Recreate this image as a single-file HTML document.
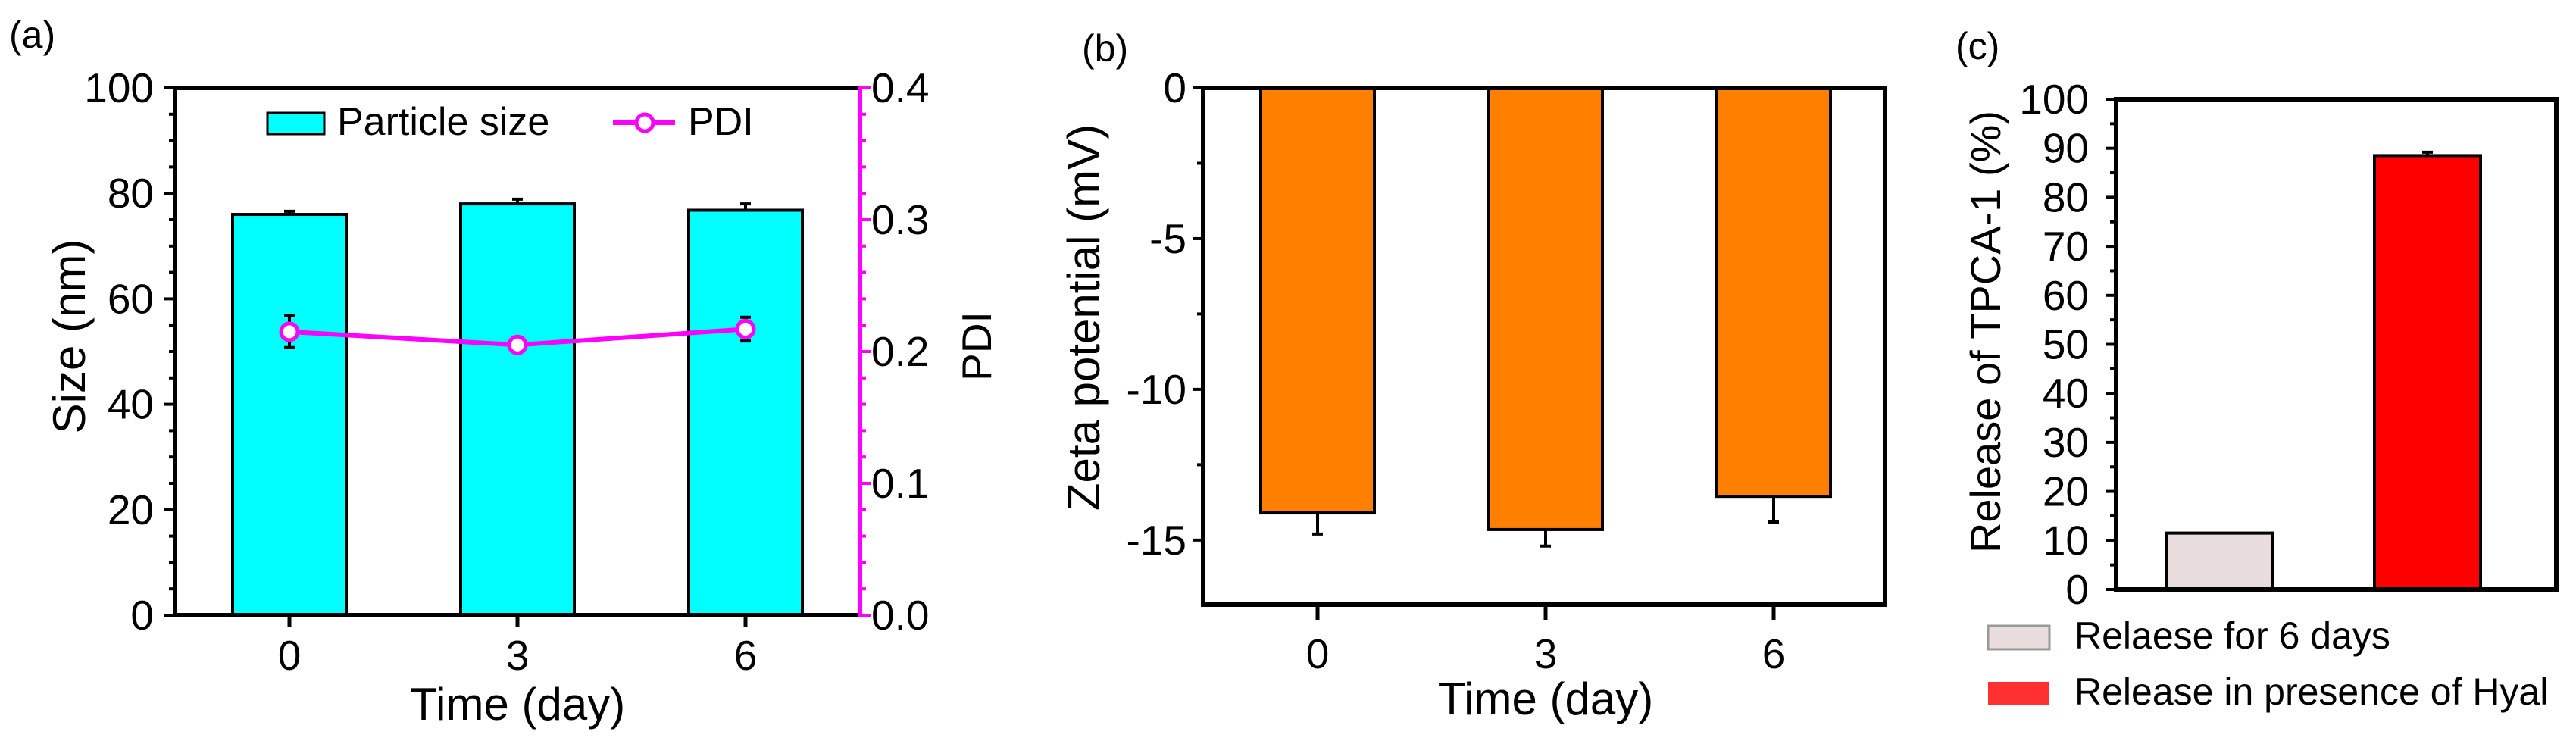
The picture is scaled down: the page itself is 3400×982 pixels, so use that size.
<!DOCTYPE html>
<html><head><meta charset="utf-8"><style>
html,body{margin:0;padding:0;background:#fff;}
svg{display:block;font-family:"Liberation Sans",Arial,sans-serif;}
</style></head><body>
<svg id="fig" width="3400" height="982" viewBox="0 0 3400 982" xmlns="http://www.w3.org/2000/svg"></svg>
<script>
// Panel A data
const aCats = ["0","3","6"];
const aSize = [76, 78, 76.8];
const aSizeErr = [0.6, 0.9, 1.2];
const aPdi = [0.215, 0.205, 0.217];
const aPdiErr = [0.012, 0.005, 0.009];
const aTicks = [0,20,40,60,80,100];
const aRTicks = [0.0,0.1,0.2,0.3,0.4];
// Panel B data
const bCats = ["0","3","6"];
const bZeta = [-14.1, -14.65, -13.55];
const bZetaErr = [0.7, 0.55, 0.85];
const bTicks = [0,-5,-10,-15];
// Panel C data
const cCats = ["Relaese for 6 days","Release in presence of Hyal"];
const cRelease = [11.5, 88.5];
const cReleaseErr = [0, 0.7];
const cTicks = [0,10,20,30,40,50,60,70,80,90,100];

const NS="http://www.w3.org/2000/svg";
const svg=document.getElementById('fig');
function el(tag,attrs,parent,txt){const e=document.createElementNS(NS,tag);for(const k in attrs)e.setAttribute(k,attrs[k]);if(txt!==undefined)e.textContent=txt;(parent||svg).appendChild(e);return e;}
function lin(d0,d1,r0,r1){return v=>r0+(v-d0)*(r1-r0)/(d1-d0);}

// ---------- Panel A ----------
const gA=el('g',{});


const axL=231, axR=1135, axT=116, axB=812;
const ya=lin(0,100,axB,axT), yp=lin(0,0.4,axB,axT);
const xa=i=>382+i*301;
aSize.forEach((v,i)=>{
  const r=el('rect',{x:xa(i)-75,y:ya(v),width:150,height:axB-ya(v),fill:'#00ffff',stroke:'#000','stroke-width':4},gA);
  
  
  const e=el('path',{d:`M${xa(i)},${ya(v)} V${ya(v+aSizeErr[i])} M${xa(i)-7},${ya(v+aSizeErr[i])} H${xa(i)+7}`,stroke:'#000','stroke-width':4,fill:'none'},gA);
  
  
});
let pd='';aPdi.forEach((v,i)=>{pd+=(i?'L':'M')+xa(i)+','+yp(v)+' ';});
const pl=el('path',{d:pd,stroke:'#ff00ff','stroke-width':6,fill:'none'},gA);


aPdi.forEach((v,i)=>{
  const e=el('path',{d:`M${xa(i)},${yp(v-aPdiErr[i])} V${yp(v+aPdiErr[i])} M${xa(i)-7},${yp(v-aPdiErr[i])} H${xa(i)+7} M${xa(i)-7},${yp(v+aPdiErr[i])} H${xa(i)+7}`,stroke:'#000','stroke-width':4,fill:'none'},gA);
  
  
  const c=el('circle',{cx:xa(i),cy:yp(v),r:11,fill:'#fff',stroke:'#ff00ff','stroke-width':5},gA);
  
  
});
el('path',{d:`M${axL},${axT} H${axR} M${axL},${axT-3} V${axB} H${axR}`,stroke:'#000','stroke-width':6,fill:'none'},gA);
el('line',{x1:axR,y1:axT-3,x2:axR,y2:axB+3,stroke:'#ff00ff','stroke-width':6},gA);
for(let v=0;v<=100;v+=5){const major=v%20===0;el('line',{x1:axL-(major?14:8),x2:axL,y1:ya(v),y2:ya(v),stroke:'#000','stroke-width':4},gA);}
for(let v=0;v<=0.4001;v+=0.02){const major=Math.round(v*100)%10===0;el('line',{x1:axR,x2:axR+(major?14:8),y1:yp(v),y2:yp(v),stroke:'#ff00ff','stroke-width':4},gA);}
aTicks.forEach(v=>{const t=el('text',{x:203,y:ya(v)+19,'font-size':55,'text-anchor':'end'},gA,String(v));});
aRTicks.forEach(v=>{const t=el('text',{x:1150,y:yp(v)+19,'font-size':55},gA,v.toFixed(1));});
aCats.forEach((c,i)=>{el('line',{x1:xa(i),x2:xa(i),y1:axB,y2:axB+16,stroke:'#000','stroke-width':5},gA);const t=el('text',{x:xa(i),y:884,'font-size':55,'text-anchor':'middle'},gA,c);});
let t;
t=el('text',{x:683,y:950,'font-size':60,'text-anchor':'middle'},gA,'Time (day)');
t=el('text',{x:0,y:0,'font-size':60,'text-anchor':'middle',transform:'translate(112,444) rotate(-90)'},gA,'Size (nm)');
t=el('text',{x:0,y:0,'font-size':55,'text-anchor':'middle',transform:'translate(1308,457) rotate(-90)'},gA,'PDI');
t=el('text',{x:12,y:63,'font-size':50},gA,'(a)');
el('rect',{x:353,y:149,width:75,height:28,fill:'#00ffff',stroke:'#000','stroke-width':3},gA);
t=el('text',{x:445,y:178,'font-size':52},gA,'Particle size');
el('line',{x1:809,x2:891,y1:162,y2:162,stroke:'#ff00ff','stroke-width':6},gA);
el('circle',{cx:851,cy:162,r:11,fill:'#fff',stroke:'#ff00ff','stroke-width':5},gA);
t=el('text',{x:908,y:178,'font-size':52},gA,'PDI');

// ---------- Panel B ----------
const gB=el('g',{});


const bL=1588,bR=2488,bT=116,bB=798;
const yb=lin(0,-17.14,bT,bB);
const xb=i=>1739+i*301;
bZeta.forEach((v,i)=>{
  const r=el('rect',{x:xb(i)-75,y:yb(0),width:150,height:yb(v)-yb(0),fill:'#ff8000',stroke:'#000','stroke-width':4},gB);
  
  
  const e=el('path',{d:`M${xb(i)},${yb(v)} V${yb(v-bZetaErr[i])} M${xb(i)-7},${yb(v-bZetaErr[i])} H${xb(i)+7}`,stroke:'#000','stroke-width':4,fill:'none'},gB);
  
  
});
el('rect',{x:bL,y:bT,width:bR-bL,height:bB-bT,fill:'none',stroke:'#000','stroke-width':6},gB);
for(let v=0;v>=-17;v-=2.5){const major=v%5===0;el('line',{x1:bL-(major?14:8),x2:bL,y1:yb(v),y2:yb(v),stroke:'#000','stroke-width':4},gB);}
bTicks.forEach(v=>{const t=el('text',{x:1566,y:yb(v)+19,'font-size':55,'text-anchor':'end'},gB,String(v));});
bCats.forEach((c,i)=>{el('line',{x1:xb(i),x2:xb(i),y1:bB,y2:bB+20,stroke:'#000','stroke-width':5},gB);const t=el('text',{x:xb(i),y:882,'font-size':55,'text-anchor':'middle'},gB,c);});
t=el('text',{x:2040,y:943,'font-size':60,'text-anchor':'middle'},gB,'Time (day)');
t=el('text',{x:0,y:0,'font-size':60,'text-anchor':'middle',transform:'translate(1451,419) rotate(-90)'},gB,'Zeta potential (mV)');
t=el('text',{x:1428,y:81,'font-size':50},gB,'(b)');

// ---------- Panel C ----------
const gC=el('g',{});


const cL=2793,cR=3374,cT=131,cB=778;
const yc=lin(0,100,cB,cT);
const cx=i=>2930+i*274;
const cFill=['#e8dcdc','#ff0000'];
cRelease.forEach((v,i)=>{
  const r=el('rect',{x:cx(i)-70,y:yc(v),width:140,height:cB-yc(v),fill:cFill[i],stroke:'#000','stroke-width':4},gC);
  
  
  if(cReleaseErr[i]>0){const e=el('path',{d:`M${cx(i)},${yc(v)} V${yc(v+cReleaseErr[i])} M${cx(i)-7},${yc(v+cReleaseErr[i])} H${cx(i)+7}`,stroke:'#000','stroke-width':4,fill:'none'},gC);}
});
el('rect',{x:cL,y:cT,width:cR-cL,height:cB-cT,fill:'none',stroke:'#000','stroke-width':6},gC);
for(let v=0;v<=100;v+=5){const major=v%10===0;el('line',{x1:cL-(major?14:8),x2:cL,y1:yc(v),y2:yc(v),stroke:'#000','stroke-width':4},gC);}
cTicks.forEach(v=>{const t=el('text',{x:2757,y:yc(v)+19,'font-size':55,'text-anchor':'end'},gC,String(v));});
t=el('text',{x:0,y:0,'font-size':56,'text-anchor':'middle',transform:'translate(2640,438) rotate(-90)'},gC,'Release of TPCA-1 (%)');
t=el('text',{x:2581,y:78,'font-size':50},gC,'(c)');
const legFill=['#e8dcdc','#ff3030'], legStroke=['#999','none'];
cCats.forEach((c,i)=>{
  const y=826+i*74;
  const s=el('rect',{x:2624,y:y,width:81,height:31,fill:legFill[i],stroke:legStroke[i],'stroke-width':3},gC);
  
  
  const t=el('text',{x:2738,y:y+30,'font-size':50},gC,c);
  
  
});
</script>
</body></html>
